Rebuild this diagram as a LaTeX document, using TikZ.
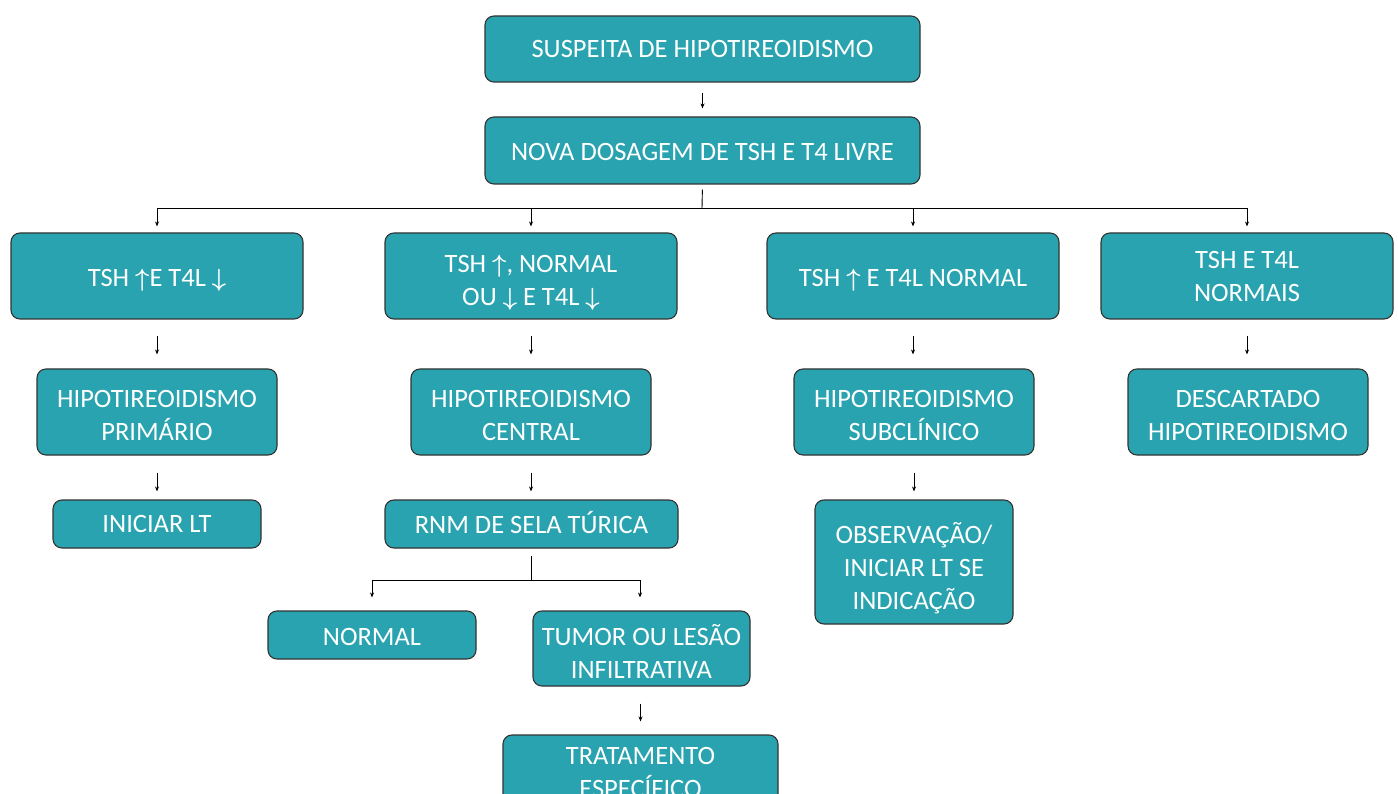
\documentclass[tikz,border=0pt]{standalone}
\usepackage{fontspec}
\setmainfont{Carlito}
\usetikzlibrary{arrows.meta}
\definecolor{teal1}{HTML}{29A3AF}
\definecolor{edge1}{HTML}{333333}
\newcommand{\up}{$\boldsymbol{\uparrow}$}
\newcommand{\dn}{$\boldsymbol{\downarrow}$}
\usepackage{amsmath}
\tikzset{
  box/.style={draw=edge1, line width=1.1pt, fill=teal1, rounded corners=9pt, inner sep=0pt},
  txt/.style={text=white, align=center, inner sep=0pt, font=\fontsize{26.5}{33}\selectfont},
  arr/.style={-{Stealth[length=5pt,width=4pt]}, line width=0.9pt, black},
  ln/.style={line width=0.9pt, black}
}
% name, center, width, height, text shift, text
\newcommand{\bx}[6]{%
  \node[box, minimum width=#3, minimum height=#4] (#1) at #2 {};
  \node[txt] (#1-t) at ([yshift=-#5pt]#1.center) {#6};}
\begin{document}
\begin{tikzpicture}[x=1pt,y=-1pt]
\clip (0,0) rectangle (1398,794);
\useasboundingbox (0,0) rectangle (1398,794);
\fill[white] (0,0) rectangle (1398,794);
% row 1,2
\bx{s}{(702.5,49)}{435}{66}{0}{SUSPEITA DE HIPOTIREOIDISMO}
\bx{n}{(702.5,150.5)}{435}{67}{1}{NOVA DOSAGEM DE TSH E T4 LIVRE}
% row 3
\bx{a3}{(157,276)}{292}{86}{4}{TSH \up E T4L \dn}
\bx{b3}{(531,276)}{292}{86}{7}{TSH \up, NORMAL\\OU \dn{} E T4L \dn}
\bx{c3}{(913,276)}{292}{86}{4}{TSH \up{} E T4L NORMAL}
\bx{d3}{(1247,276)}{292}{86}{0.5}{TSH E T4L\\NORMAIS}
% row 4
\bx{a4}{(157,412)}{240}{86}{3.5}{HIPOTIREOIDISMO\\PRIMÁRIO}
\bx{b4}{(531,412)}{240}{86}{3.5}{HIPOTIREOIDISMO\\CENTRAL}
\bx{c4}{(914,412)}{240}{86}{3.5}{HIPOTIREOIDISMO\\SUBCLÍNICO}
\bx{d4}{(1248,412)}{240}{86}{3.5}{DESCARTADO\\HIPOTIREOIDISMO}
% row 5
\bx{a5}{(157,524)}{208}{48}{0}{INICIAR LT}
\bx{b5}{(531.5,524)}{293}{48}{-1}{RNM DE SELA TÚRICA}
\bx{c5}{(914,562)}{198}{124}{6.5}{OBSERVAÇÃO/\\INICIAR LT SE\\INDICAÇÃO}
% row 6
\bx{n6}{(372,635)}{208}{48}{2}{NORMAL}
\bx{t6}{(641.5,648.5)}{217}{75}{3}{TUMOR OU LESÃO\\INFILTRATIVA}
\bx{tr}{(640.5,772.5)}{275}{75}{0}{TRATAMENTO\\ESPECÍFICO}
% connectors
\draw[arr, shorten <=10pt, shorten >=8pt] (s) -- (n);
\coordinate (bus) at (702,208);
\draw[ln, shorten <=5pt] (n.south) -- (bus);
\foreach \c in {a3,b3,c3,d3}{
  \draw[arr, shorten >=6pt] (bus) -| (\c.north);
}
\draw[arr, shorten <=16pt, shorten >=14pt] (a3) -- (a4);
\draw[arr, shorten <=16pt, shorten >=14pt] (b3.south) -- (b4.north);
\draw[arr, shorten <=16pt, shorten >=14pt] (c3.south) -- (c3.south |- c4.north);
\draw[arr, shorten <=16pt, shorten >=14pt] (d3.south) -- (d3.south |- d4.north);
\draw[arr, shorten <=17pt, shorten >=8pt] (a4) -- (a5);
\draw[arr, shorten <=17pt, shorten >=8pt] (b4.south) -- (b4.south |- b5.north);
\draw[arr, shorten <=17pt, shorten >=8pt] (c4.south) -- (c4.south |- c5.north);
\coordinate (bus2) at (531,580);
\draw[ln, shorten <=7pt] (b5.south -| bus2) -- (bus2);
\draw[arr, shorten >=13pt] (bus2) -| (n6.north);
\draw[arr, shorten >=13pt] (bus2) -| ([xshift=-1.5pt]t6.north);
\draw[arr, shorten <=17pt, shorten >=13pt] (t6.south -| tr.north) -- (tr.north);
\end{tikzpicture}
\end{document}
